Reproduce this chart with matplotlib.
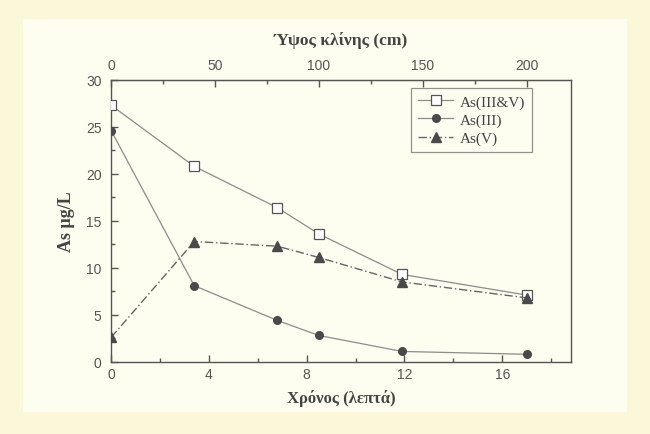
import matplotlib
matplotlib.use("Agg")
import matplotlib.pyplot as plt
from matplotlib.ticker import MultipleLocator
from matplotlib.patches import Rectangle

# Data
time_min = [0, 3.4, 6.8, 8.5, 11.9, 17]
bed_height_cm = [0, 40, 80, 100, 140, 200]
as_total = [27.3, 20.8, 16.4, 13.6, 9.3, 7.1]
as_iii = [24.6, 8.1, 4.4, 2.8, 1.1, 0.8]
as_v = [2.6, 12.8, 12.3, 11.1, 8.5, 6.8]
series_labels = ["As(III&V)", "As(III)", "As(V)"]
x_label = "Χρόνος (λεπτά)"
top_label = "Ύψος κλίνης (cm)"
y_label = "As μg/L"

ratio = 17 / 200.0  # min per cm

fig = plt.figure(figsize=(6.5, 4.35), dpi=100)
fig.patch.set_facecolor("#fbf7d9")
fig.add_artist(Rectangle((0.035, 0.05), 0.93, 0.905, transform=fig.transFigure,
                         facecolor="#fdfdf0", edgecolor="none", zorder=-1))

ax = fig.add_axes([0.171, 0.166, 0.707, 0.648])
ax.set_facecolor("#fdfdf0")

line_c = "#8c8c8c"
mk_c = "#4a4a4a"
ax.plot(time_min, as_total, color=line_c, lw=0.9, marker="s", ms=6.5,
        mfc="white", mec="#555555", mew=0.9, label=series_labels[0], zorder=3)
ax.plot(time_min, as_iii, color=line_c, lw=0.9, marker="o", ms=5.5,
        mfc=mk_c, mec=mk_c, label=series_labels[1], zorder=3)
ax.plot(time_min, as_v, color="#666666", lw=1.0, ls=(0, (6, 2, 1, 2)), marker="^", ms=6.5,
        mfc=mk_c, mec=mk_c, label=series_labels[2], zorder=3)

ax.set_xlim(0, 18.8)
ax.set_ylim(0, 30)
ax.xaxis.set_major_locator(MultipleLocator(4))
ax.xaxis.set_minor_locator(MultipleLocator(2))
ax.yaxis.set_major_locator(MultipleLocator(5))
ax.yaxis.set_minor_locator(MultipleLocator(2.5))

tick_c = "#555555"
for sp in ax.spines.values():
    sp.set_color("#555555")
    sp.set_linewidth(1.0)

ax.tick_params(axis="both", which="major", direction="in", length=5, width=1,
               color=tick_c, labelcolor="#555555", labelsize=10)
ax.tick_params(axis="y", which="major", pad=7)
ax.tick_params(axis="both", which="minor", direction="in", length=3, width=1, color=tick_c)
for lab in ax.get_xticklabels() + ax.get_yticklabels():
    lab.set_family("Liberation Sans")

sec = ax.secondary_xaxis("top", functions=(lambda t: t / ratio, lambda h: h * ratio))
sec.xaxis.set_major_locator(MultipleLocator(50))
sec.xaxis.set_minor_locator(MultipleLocator(25))
sec.tick_params(axis="x", which="major", direction="in", length=5, width=1,
                color=tick_c, labelcolor="#555555", labelsize=10, pad=6)
sec.tick_params(axis="x", which="minor", direction="in", length=3, width=1, color=tick_c)
for lab in sec.get_xticklabels():
    lab.set_family("Liberation Sans")
sec.spines["top"].set_color("#555555")
sec.set_xlabel(top_label, family="Liberation Serif", fontweight="bold", fontsize=12.5,
               color="#444444", labelpad=10)

ax.set_xlabel(x_label, family="Liberation Serif", fontweight="bold", fontsize=12,
              color="#444444", labelpad=6)
ax.set_ylabel(y_label, family="Liberation Serif", fontweight="bold", fontsize=13,
              color="#444444", labelpad=8)

leg = ax.legend(loc="upper right", bbox_to_anchor=(0.915, 0.972), borderaxespad=0,
                frameon=True, fancybox=False,
                prop={"family": "Liberation Serif", "size": 11}, handlelength=2.3,
                borderpad=0.45, labelspacing=0.3, handletextpad=0.4)
leg.get_frame().set_edgecolor("#777777")
leg.get_frame().set_linewidth(0.9)
leg.get_frame().set_facecolor("#fdfdf0")
for t in leg.get_texts():
    t.set_color("#444444")

fig.savefig("out.png", dpi=100, facecolor=fig.get_facecolor())
